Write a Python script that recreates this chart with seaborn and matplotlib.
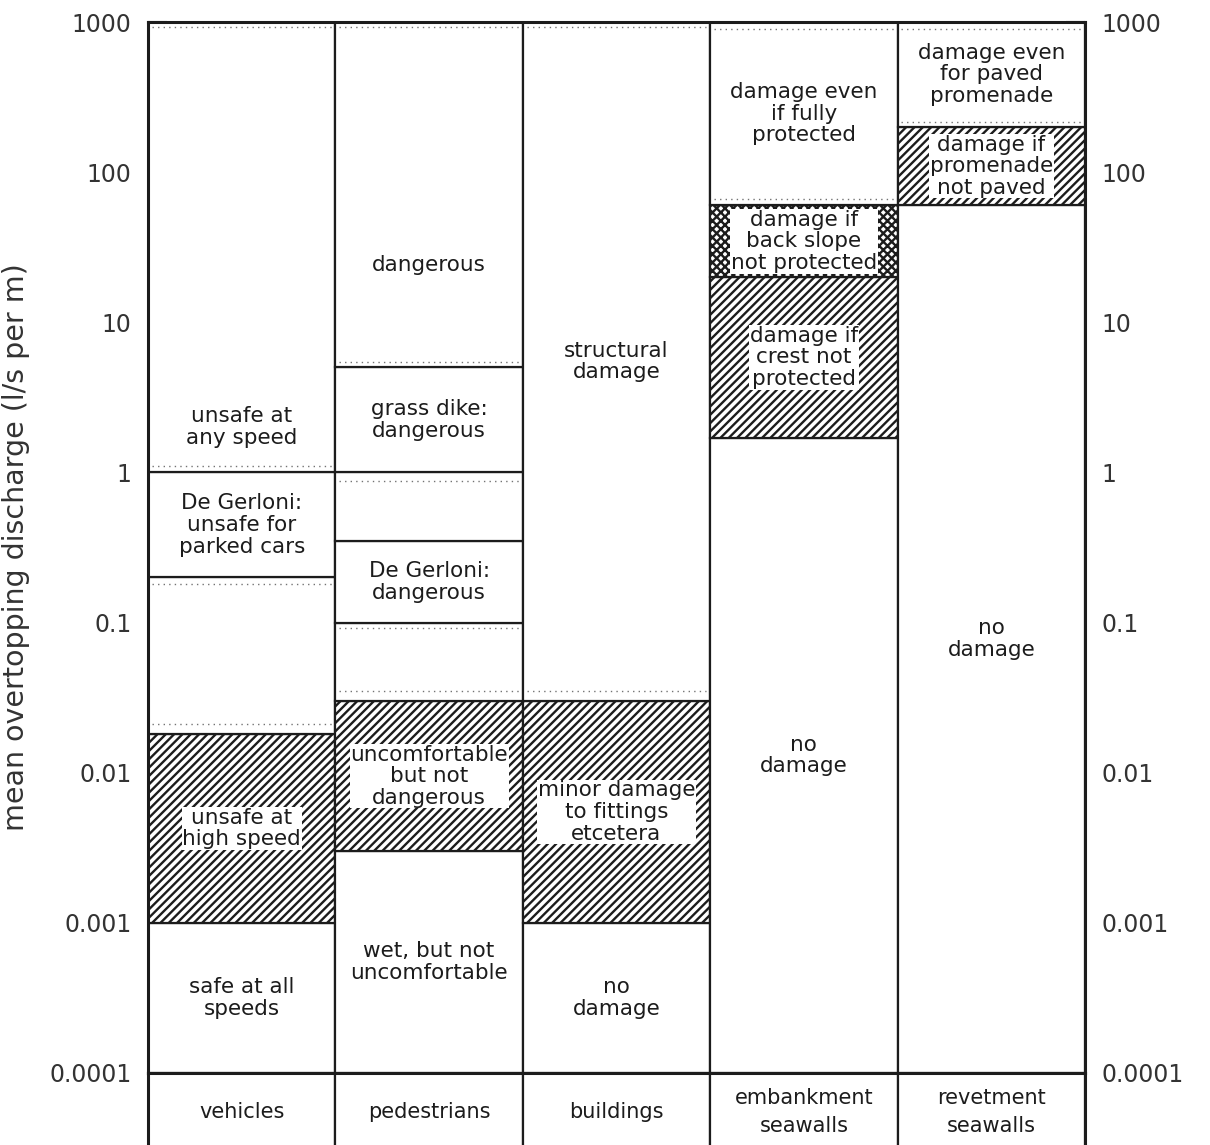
import matplotlib.pyplot as plt
import seaborn as sns
import numpy as np

categories = ['vehicles', 'pedestrians', 'buildings',
              'embankment\nseawalls', 'revetment\nseawalls']

# class boundaries (l/s per m), labels and fill per column
vehicles_edges = [1e-4, 1e-3, 0.018, 0.2, 1, 1000]
vehicles_labels = ['safe at all\nspeeds', 'unsafe at\nhigh speed', '',
                   'De Gerloni:\nunsafe for\nparked cars', 'unsafe at\nany speed']
vehicles_hatch = ['', '////', '', '', '']
vehicles_dotted = [920, 1.1, 0.18, 0.021]

pedestrians_edges = [1e-4, 0.003, 0.03, 0.1, 0.35, 1, 5, 1000]
pedestrians_labels = ['wet, but not\nuncomfortable', 'uncomfortable\nbut not\ndangerous', '',
                      'De Gerloni:\ndangerous', '', 'grass dike:\ndangerous', 'dangerous']
pedestrians_hatch = ['', '////', '', '', '', '', '']
pedestrians_dotted = [920, 5.4, 0.88, 0.092, 0.035]

buildings_edges = [1e-4, 1e-3, 0.03, 1000]
buildings_labels = ['no\ndamage', 'minor damage\nto fittings\netcetera', 'structural\ndamage']
buildings_hatch = ['', '////', '']
buildings_dotted = [920, 0.035]

embankment_edges = [1e-4, 1.7, 20, 60, 1000]
embankment_labels = ['no\ndamage', 'damage if\ncrest not\nprotected',
                     'damage if\nback slope\nnot protected', 'damage even\nif fully\nprotected']
embankment_hatch = ['', '////', 'xxxx', '']
embankment_dotted = [900, 66]

revetment_edges = [1e-4, 60, 200, 1000]
revetment_labels = ['no\ndamage', 'damage if\npromenade\nnot paved',
                    'damage even\nfor paved\npromenade']
revetment_hatch = ['', '////', '']
revetment_dotted = [900, 215]

# labels that are not centred in their class
label_at = {(0, 4): 2.0, (1, 6): 24}

tick_values = [1e-4, 1e-3, 1e-2, 1e-1, 1, 10, 100, 1000]
tick_labels = ['0.0001', '0.001', '0.01', '0.1', '1', '10', '100', '1000']

columns = [
    (vehicles_edges, vehicles_labels, vehicles_hatch, vehicles_dotted),
    (pedestrians_edges, pedestrians_labels, pedestrians_hatch, pedestrians_dotted),
    (buildings_edges, buildings_labels, buildings_hatch, buildings_dotted),
    (embankment_edges, embankment_labels, embankment_hatch, embankment_dotted),
    (revetment_edges, revetment_labels, revetment_hatch, revetment_dotted),
]

sns.set_theme(style='white')
plt.rcParams['font.family'] = ['DejaVu Sans']
plt.rcParams['hatch.linewidth'] = 1.7
ink = '#1c1c1c'

fig = plt.figure(figsize=(12.1, 11.45), dpi=100)
ax = fig.add_axes([148 / 1210, 72 / 1145, 937 / 1210, 1051 / 1145])

for i, (edges, labels, hatches, dotted) in enumerate(columns):
    for k, (lo, hi) in enumerate(zip(edges[:-1], edges[1:])):
        ax.bar(i, hi - lo, bottom=lo, width=1.0, facecolor='white',
               edgecolor=ink, linewidth=1.6, hatch=hatches[k], zorder=2)
        if labels[k]:
            yv = label_at.get((i, k), np.sqrt(lo * hi))
            ax.text(i, yv, labels[k], ha='center', va='center', fontsize=15.5,
                    color=ink, linespacing=1.1, zorder=4,
                    bbox=dict(facecolor='white', edgecolor='none', pad=0.5))
    ax.hlines(dotted, i - 0.48, i + 0.48, colors='0.45', linewidth=1.0,
              linestyles=(0, (1, 3)), zorder=3)

ax.set_yscale('log')
ax.set_ylim(1e-4, 1000)
ax.set_xlim(-0.5, 4.5)
ax.set_xticks([])
ax.set_yticks(tick_values)
ax.set_yticklabels(tick_labels)
ax.yaxis.set_minor_formatter(plt.NullFormatter())
ax.tick_params(axis='y', which='major', direction='in', length=14, width=1.5,
               left=True, right=True, labelleft=True, labelright=True,
               labelsize=17, labelcolor='#333333', pad=12, color=ink)
ax.tick_params(axis='y', which='minor', direction='in', length=4, width=1,
               left=True, right=False, color=ink)
for s in ax.spines.values():
    s.set_linewidth(2.2)
    s.set_color(ink)
ax.set_ylabel('mean overtopping discharge (l/s per m)', fontsize=20.5, color='#333333')
ax.yaxis.set_label_coords(-0.126, 0.5)

# category row under the chart
ax2 = fig.add_axes([148 / 1210, -6 / 1145, 937 / 1210, 78 / 1145])
for i, name in enumerate(categories):
    ax2.bar(i, 1, width=1.0, facecolor='white', edgecolor=ink, linewidth=1.6)
    ax2.text(i, 0.5, name, ha='center', va='center', fontsize=15,
             color=ink, linespacing=1.5)
ax2.set_xlim(-0.5, 4.5)
ax2.set_ylim(0, 1)
ax2.set_xticks([])
ax2.set_yticks([])
for s in ax2.spines.values():
    s.set_linewidth(2.2)
    s.set_color(ink)

fig.savefig('out.png', dpi=100)
